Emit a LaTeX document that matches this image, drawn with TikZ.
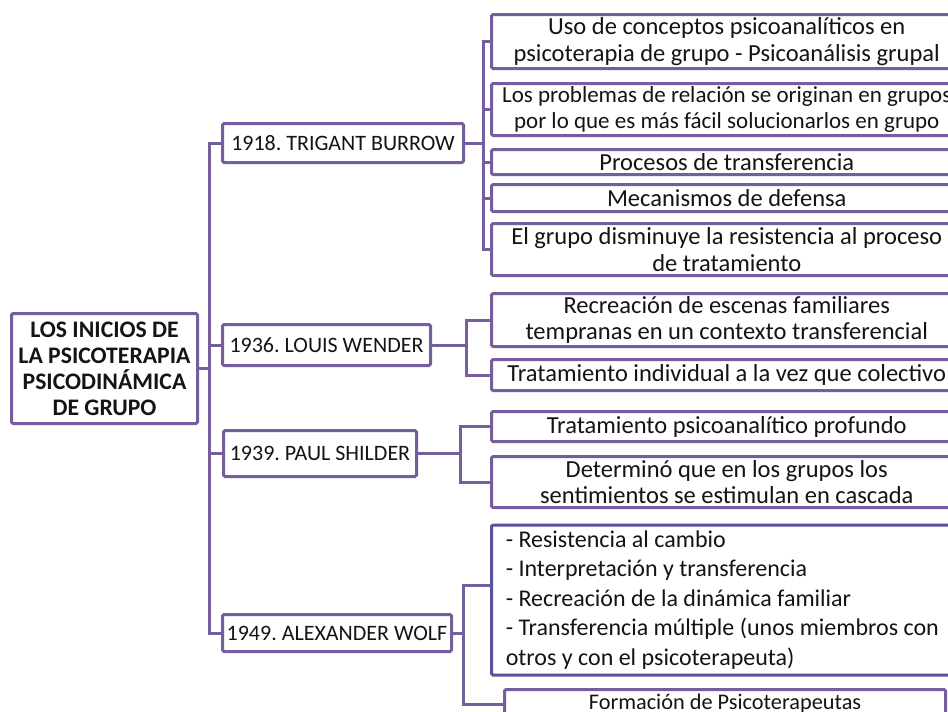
\documentclass[tikz,border=0pt]{standalone}
\usepackage{fontspec}
\setmainfont{Carlito}
\frenchspacing
\definecolor{lineP}{RGB}{118,94,158}
\definecolor{listP}{RGB}{88,84,156}
\definecolor{txt}{RGB}{20,20,20}
\tikzset{
  box/.style={draw=lineP, line width=3pt, fill=white, rounded corners=1.5pt, inner sep=0pt,
    text=txt, font=\fontsize{22}{26}\selectfont, align=center, anchor=center},
  leaf/.style={box, font=\fontsize{24.5}{26.5}\selectfont, minimum width=470.5pt},
  conn/.style={draw=lineP, line width=3pt},
}
\begin{document}
\begin{tikzpicture}[x=1pt,y=-1pt]
\useasboundingbox (0,0) rectangle (948,712);
\clip (0,0) rectangle (948,712);
\fill[white] (0,0) rectangle (948,712);

% root
\node[box, minimum width=186pt, minimum height=110pt, font=\fontsize{23.7}{26}\selectfont\bfseries]
  (root) at (104.5,368.5) {LOS INICIOS DE\\LA PSICOTERAPIA\\PSICODINÁMICA\\DE GRUPO};

% level 1
\node[box, minimum width=241pt, minimum height=39pt] (b1) at (343,143) {1918. TRIGANT BURROW};
\node[box, minimum width=208pt, minimum height=41pt] (b2) at (326.5,345) {1936. LOUIS WENDER};
\node[box, minimum width=193pt, minimum height=46pt] (b3) at (320,453.5) {1939. PAUL SHILDER};
\node[box, minimum width=229pt, minimum height=37pt] (b4) at (337,633) {1949. ALEXANDER WOLF};

% level 2
\node[leaf, minimum height=54pt] (c11) at (726.75,41.5) {Uso de conceptos psicoanalíticos en\\psicoterapia de grupo - Psicoanálisis grupal};
\node[leaf, minimum height=52pt, font=\fontsize{23}{26.5}\selectfont] (c12) at (726.75,109.5) {Los problemas de relación se originan en grupos\\por lo que es más fácil solucionarlos en grupo};
\node[leaf, minimum height=25pt] (c13) at (726.75,162) {Procesos de transferencia};
\node[leaf, minimum height=27pt] (c14) at (726.75,198) {Mecanismos de defensa};
\node[leaf, minimum height=52pt] (c15) at (726.75,249.5) {El grupo disminuye la resistencia al proceso\\de tratamiento};
\node[leaf, minimum height=53pt] (c21) at (726.75,320) {Recreación de escenas familiares\\tempranas en un contexto transferencial};
\node[leaf, minimum height=31pt] (c22) at (726.75,375) {Tratamiento individual a la vez que colectivo};
\node[leaf, minimum height=30pt] (c31) at (726.75,426.5) {Tratamiento psicoanalítico profundo};
\node[leaf, minimum height=51pt] (c32) at (726.75,482) {Determinó que en los grupos los\\sentimientos se estimulan en cascada};
\node[box, draw=listP, minimum width=470.5pt, minimum height=150pt, align=flush left, text width=442pt,
  font=\fontsize{24}{29.5}\selectfont] (c41) at (726.75,600)
  {- Resistencia al cambio\\- Interpretación y transferencia\\- Recreación de la dinámica familiar\\- Transferencia múltiple (unos miembros con\\otros y con el psicoterapeuta)};
\node[box, font=\fontsize{22.3}{26}\selectfont, minimum width=441pt, minimum height=29pt] (c42) at (725,704) {Formación de Psicoterapeutas};

% trunk
\coordinate (t) at (209,368.5);
\draw[conn] (root.east) -- (t);
\draw[conn] (t) |- (b1.west);
\draw[conn] (t) |- (b2.west);
\draw[conn] (t) |- (b3.west);
\draw[conn] (t) |- (b4.west);

% brackets
\coordinate (k1) at (483,143);
\draw[conn] (b1.east) -- (k1);
\foreach \c in {c11,c12,c13,c14,c15} \draw[conn] (k1) |- (\c.west);
\coordinate (k2) at (466,345);
\draw[conn] (b2.east) -- (k2);
\foreach \c in {c21,c22} \draw[conn] (k2) |- (\c.west);
\coordinate (k3) at (460,453.5);
\draw[conn] (b3.east) -- (k3);
\foreach \c in {c31,c32} \draw[conn] (k3) |- (\c.west);
\coordinate (k4) at (463,633);
\draw[conn] (b4.east) -- (k4);
\draw[conn] (k4) |- ([yshift=15pt]c41.west);
\draw[conn] (k4) |- (c42.west);
\end{tikzpicture}
\end{document}
